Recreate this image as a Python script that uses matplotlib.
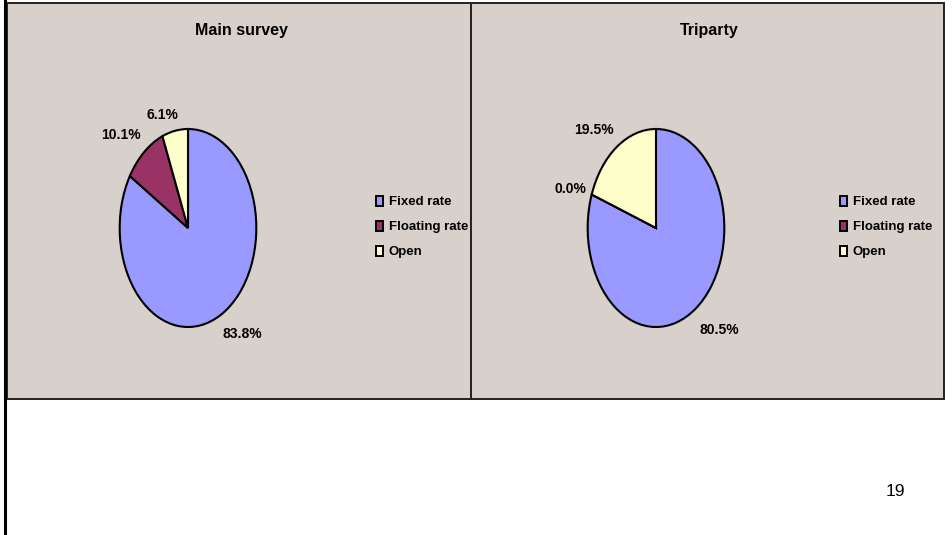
import matplotlib
matplotlib.use("Agg")
import matplotlib.pyplot as plt
from matplotlib.patches import Rectangle, Patch
from matplotlib.lines import Line2D

plt.rcParams['font.family'] = ['Liberation Sans', 'DejaVu Sans']

categories = ["Fixed rate", "Floating rate", "Open"]
main_survey = [83.8, 10.1, 6.1]
triparty = [80.5, 0.0, 19.5]
titles = ["Main survey", "Triparty"]
page_number = "19"

colors = ["#9999ff", "#993366", "#ffffcc"]
bg = "#d8d0cb"

W, H = 952, 535
fig = plt.figure(figsize=(W / 100, H / 100), dpi=100)


def fx(px):
    return px / W


def fy(py):
    return 1 - py / H


# page line on the left
fig.add_artist(Line2D([fx(5), fx(5)], [0, 1], color="black", lw=2.2))

# label offsets (in pie radius units), like the Excel layout
label_pos = [
    [(0.80, -1.07), (-0.985, 0.94), (-0.37, 1.14)],
    [(0.92, -1.03), (-1.25, 0.39), (-0.91, 0.99)],
]

panels = [(7, 471), (471, 944)]
datasets = [main_survey, triparty]
pie_cx = [188, 656]

for i, (x0, x1) in enumerate(panels):
    fig.add_artist(Rectangle((fx(x0), fy(399)), fx(x1) - fx(x0), fy(3) - fy(399),
                             transform=fig.transFigure, facecolor=bg,
                             edgecolor="#222222", lw=1.4, zorder=0))
    fig.text(fx((x0 + x1) / 2 + 2), fy(30), titles[i], ha="center", va="center",
             fontsize=11.5, fontweight="bold")

    cx = pie_cx[i]
    ax = fig.add_axes([fx(cx - 69), fy(328), 138 / W, 200 / H])
    ax.pie(datasets[i], colors=colors, startangle=90, counterclock=False,
           radius=1, wedgeprops=dict(edgecolor="black", linewidth=1.5))
    ax.set_aspect("auto")
    ax.set_xlim(-1.01, 1.01)
    ax.set_ylim(-1.01, 1.01)
    ax.axis("off")
    for v, (lx, ly) in zip(datasets[i], label_pos[i]):
        ax.text(lx, ly, f"{v:.1f}%", ha="center", va="center", fontsize=10,
                fontweight="bold", clip_on=False)

    handles = [Patch(facecolor=c, edgecolor="black", lw=1.4) for c in colors]
    fig.legend(handles, categories, loc="center left",
               bbox_to_anchor=(fx(x0 + 369), fy(227)), frameon=False,
               handlelength=0.55, handleheight=0.8, handletextpad=0.4,
               labelspacing=0.95, borderpad=0, borderaxespad=0,
               prop=dict(size=9.5, weight="bold"))

fig.text(fx(895), fy(491), page_number, ha="center", va="center", fontsize=12.5)

fig.savefig("out.png", dpi=100)
